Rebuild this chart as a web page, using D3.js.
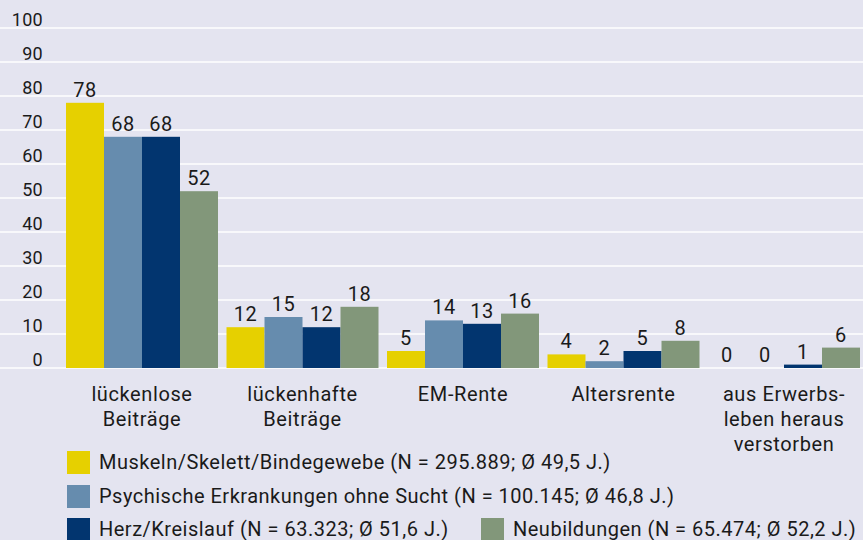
<!DOCTYPE html>
<html>
<head>
<meta charset="utf-8">
<script src="https://cdn.jsdelivr.net/npm/d3@7"></script>
<style>
  body { margin: 0; background: #e4e4f0; }
  svg { display: block; font-family: Roboto, 'Noto Sans', sans-serif; }
</style>
</head>
<body>
<div id="chart"></div>
<script>
/* global d3 */

const categories = [
  ['lückenlose', 'Beiträge'],
  ['lückenhafte', 'Beiträge'],
  ['EM-Rente'],
  ['Altersrente'],
  ['aus Erwerbs-', 'leben heraus', 'verstorben']
]
const seriesNames = [
  'Muskeln/Skelett/Bindegewebe (N = 295.889; Ø 49,5 J.)',
  'Psychische Erkrankungen ohne Sucht (N = 100.145; Ø 46,8 J.)',
  'Herz/Kreislauf (N = 63.323; Ø 51,6 J.)',
  'Neubildungen (N = 65.474; Ø 52,2 J.)'
]
const muskeln = [78, 12, 5, 4, 0]
const psyche = [68, 15, 14, 2, 0]
const herz = [68, 12, 13, 5, 1]
const neubildungen = [52, 18, 16, 8, 6]
const yTicks = [0, 10, 20, 30, 40, 50, 60, 70, 80, 90, 100]

const colors = ['#e6d000', '#668cae', '#02356f', '#82977a']
const width = 863
const height = 540
const textColor = '#1a1a1a'

const series = [muskeln, psyche, herz, neubildungen]

const svg = d3.select('#chart')
  .append('svg')
  .attr('width', width)
  .attr('height', height)

svg.append('rect')
  .attr('width', width)
  .attr('height', height)
  .attr('fill', '#e4e4f0')

const y = d3.scaleLinear().domain([0, 100]).range([368, 28])
const x0 = d3.scaleBand()
  .domain(d3.range(categories.length))
  .range([66, 860])
  .paddingInner(0.053)
  .paddingOuter(0)
const x1 = d3.scaleBand()
  .domain(d3.range(series.length))
  .range([0, x0.bandwidth()])

// gridlines + tick labels
svg.append('g')
  .selectAll('line')
  .data(yTicks)
  .join('line')
  .attr('x1', 0)
  .attr('x2', width)
  .attr('y1', d => y(d))
  .attr('y2', d => y(d))
  .attr('stroke', '#fff')
  .attr('stroke-width', 1.5)

svg.append('g')
  .selectAll('text')
  .data(yTicks)
  .join('text')
  .attr('x', 43)
  .attr('y', d => y(d) - 2)
  .attr('text-anchor', 'end')
  .attr('font-size', 18)
  .attr('letter-spacing', 0.3)
  .attr('fill', textColor)
  .text(d => d)

// bars
const groups = svg.append('g')
  .selectAll('g')
  .data(categories.map((c, i) => series.map((s, j) => ({cat: i, ser: j, value: s[i]}))))
  .join('g')
  .attr('transform', (d, i) => `translate(${x0(i)},0)`)

groups.selectAll('rect')
  .data(d => d)
  .join('rect')
  .attr('x', d => x1(d.ser))
  .attr('y', d => y(d.value))
  .attr('width', x1.bandwidth())
  .attr('height', d => y(0) - y(d.value))
  .attr('fill', d => colors[d.ser])

groups.selectAll('text')
  .data(d => d)
  .join('text')
  .attr('x', d => x1(d.ser) + x1.bandwidth() / 2)
  .attr('y', d => y(d.value) - 6)
  .attr('text-anchor', 'middle')
  .attr('font-size', 20)
  .attr('letter-spacing', 0.5)
  .attr('fill', textColor)
  .text(d => d.value)

// category labels
svg.append('g')
  .selectAll('text')
  .data(categories)
  .join('text')
  .attr('x', (d, i) => x0(i) + x0.bandwidth() / 2)
  .attr('y', 401)
  .attr('text-anchor', 'middle')
  .attr('font-size', 20)
  .attr('letter-spacing', 0.6)
  .attr('fill', textColor)
  .selectAll('tspan')
  .data(d => d)
  .join('tspan')
  .attr('x', function () { return this.parentNode.getAttribute('x') })
  .attr('dy', (d, i) => i === 0 ? 0 : 25)
  .text(d => d)

// legend
const legendPos = [[67, 451], [67, 485], [67, 518], [481, 518]]
const legend = svg.append('g')
  .selectAll('g')
  .data(seriesNames)
  .join('g')
  .attr('transform', (d, i) => `translate(${legendPos[i][0]},${legendPos[i][1]})`)

legend.append('rect')
  .attr('width', 23)
  .attr('height', 23)
  .attr('fill', (d, i) => colors[i])

legend.append('text')
  .attr('x', 32)
  .attr('y', 18)
  .attr('font-size', 20)
  .attr('letter-spacing', 0.5)
  .attr('fill', textColor)
  .text(d => d)
</script>
</body>
</html>
